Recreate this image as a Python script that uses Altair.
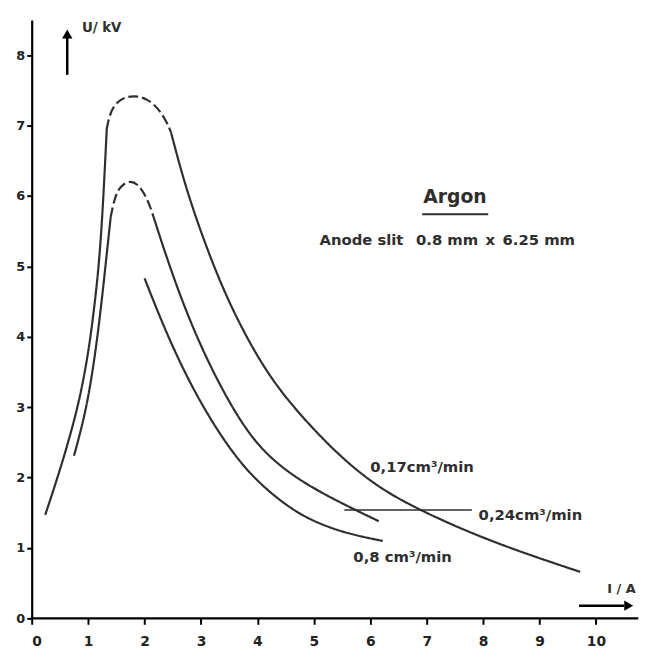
import altair as alt
import pandas as pd

# ---- curve data (I / A , U / kV) ----
# 0,17 cm3/min : rising (solid), peak (dashed), falling (solid)
a_rise_x = [0.24, 0.5, 0.7, 0.86, 1.0, 1.1, 1.19, 1.26, 1.33]
a_rise_y = [1.47, 2.1, 2.65, 3.15, 3.75, 4.35, 5.0, 5.8, 6.95]
a_peak_x = [1.33, 1.37, 1.45, 1.6, 1.82, 2.05, 2.25, 2.4, 2.47]
a_peak_y = [6.95, 7.12, 7.28, 7.39, 7.43, 7.38, 7.24, 7.04, 6.9]
a_fall_x = [2.47, 2.6, 2.78, 3.08, 3.48, 4.0, 4.5, 5.23, 5.8, 6.33, 6.98, 7.73, 8.6, 9.72]
a_fall_y = [6.9, 6.5, 6.0, 5.3, 4.5, 3.7, 3.12, 2.48, 2.07, 1.77, 1.5, 1.23, 0.96, 0.66]

# 0,24 cm3/min
b_rise_x = [0.75, 0.95, 1.1, 1.22, 1.32, 1.4]
b_rise_y = [2.31, 2.9, 3.6, 4.35, 5.1, 5.7]
b_peak_x = [1.4, 1.47, 1.57, 1.73, 1.88, 2.0, 2.1, 2.16]
b_peak_y = [5.7, 5.98, 6.14, 6.22, 6.17, 6.03, 5.85, 5.7]
b_fall_x = [2.16, 2.38, 2.73, 3.2, 3.83, 4.4, 5.0, 5.58, 6.15]
b_fall_y = [5.7, 5.15, 4.36, 3.5, 2.6, 2.15, 1.84, 1.6, 1.38]

# 0,8 cm3/min
c_fall_x = [2.0, 2.3, 2.6, 2.9, 3.3, 3.83, 4.5, 5.0, 5.6, 6.22]
c_fall_y = [4.83, 4.22, 3.68, 3.2, 2.65, 2.06, 1.6, 1.37, 1.2, 1.1]

x_ticks = list(range(0, 11))
y_ticks = list(range(0, 9))

segments = [
    ("A", "A1", "solid", a_rise_x, a_rise_y),
    ("A", "A2", "dashed", a_peak_x, a_peak_y),
    ("A", "A3", "solid", a_fall_x, a_fall_y),
    ("B", "B1", "solid", b_rise_x, b_rise_y),
    ("B", "B2", "dashed", b_peak_x, b_peak_y),
    ("B", "B3", "solid", b_fall_x, b_fall_y),
    ("C", "C1", "solid", c_fall_x, c_fall_y),
]
rows = []
for curve, seg, style, xs, ys in segments:
    for i, (xv, yv) in enumerate(zip(xs, ys)):
        rows.append({"curve": curve, "seg": seg, "style": style, "x": xv, "y": yv, "i": i})
df = pd.DataFrame(rows)

FONT = "DejaVu Sans"
INK = "#2e2e2e"

xscale = alt.Scale(domain=[0, 10.5], nice=False, zero=False)
yscale = alt.Scale(domain=[0, 8.5], nice=False, zero=False)

curves = alt.Chart(df).mark_line(interpolate="basis", strokeWidth=2.2, color=INK).encode(
    x=alt.X("x:Q", scale=xscale,
            axis=alt.Axis(values=x_ticks, format="d", domain=False, tickSize=6, tickWidth=2,
                          tickColor="black", labelFontSize=14, labelFontWeight="bold", labelFont=FONT,
                          labelColor="#222", labelPadding=10, grid=False, title=None)),
    y=alt.Y("y:Q", scale=yscale,
            axis=alt.Axis(values=y_ticks, format="d", domainWidth=2.2, domainColor="black", tickSize=5,
                          tickWidth=2, tickColor="black", labelFontSize=13, labelFontWeight="bold",
                          labelFont=FONT, labelColor="#222", labelPadding=2, grid=False, title=None)),
    detail="seg:N",
    order="i:Q",
    strokeDash=alt.StrokeDash("style:N", scale=alt.Scale(domain=["solid", "dashed"], range=[[1, 0], [10, 4]]),
                              legend=None),
)

# x axis line (extends to the right edge)
xaxis_df = pd.DataFrame({"x": [0], "x2": [10.75], "y": [0]})
xaxis_line = alt.Chart(xaxis_df).mark_rule(color="black", strokeWidth=2.2).encode(
    x="x:Q", x2="x2:Q", y="y:Q")

# leader line for 0,24 label
lead_df = pd.DataFrame({"x": [5.54], "x2": [7.8], "y": [1.54]})
leader = alt.Chart(lead_df).mark_rule(color=INK, strokeWidth=1.6).encode(x="x:Q", x2="x2:Q", y="y:Q")

# underline of "Argon"
ul_df = pd.DataFrame({"x": [6.92], "x2": [8.09], "y": [5.74]})
underline = alt.Chart(ul_df).mark_rule(color=INK, strokeWidth=2).encode(x="x:Q", x2="x2:Q", y="y:Q")

# axis arrows
up_df = pd.DataFrame({"x": [0.63], "y": [7.72], "y2": [8.25]})
up_shaft = alt.Chart(up_df).mark_rule(color="black", strokeWidth=2.5).encode(x="x:Q", y="y:Q", y2="y2:Q")
up_head = alt.Chart(pd.DataFrame({"x": [0.63], "y": [8.3]})).mark_point(
    shape="triangle-up", filled=True, color="black", size=110, opacity=1).encode(x="x:Q", y="y:Q")

right_df = pd.DataFrame({"x": [9.7], "x2": [10.5], "y": [0.18]})
right_shaft = alt.Chart(right_df).mark_rule(color="black", strokeWidth=2.5).encode(x="x:Q", x2="x2:Q", y="y:Q")
right_head = alt.Chart(pd.DataFrame({"x": [10.58], "y": [0.18]})).mark_point(
    shape="triangle-right", filled=True, color="black", size=110, opacity=1).encode(x="x:Q", y="y:Q")

# texts
labels_left = pd.DataFrame({
    "x": [6.0, 7.92, 5.7, 5.1, 0.89, 10.2],
    "y": [2.15, 1.46, 0.87, 5.38, 8.39, 0.42],
    "t": ["0,17cm³/min", "0,24cm³/min", "0,8 cm³/min", "Anode slit\u2002 0.8 mm\u2002x\u20026.25 mm",
          "U/ kV", "I / A"],
    "s": [15, 15, 15, 15, 13.5, 13],
})
texts = alt.Chart(labels_left).mark_text(align="left", baseline="middle", font=FONT, fontWeight="bold",
                                          color=INK).encode(
    x="x:Q", y="y:Q", text="t:N", size=alt.Size("s:Q", scale=None, legend=None))

argon = alt.Chart(pd.DataFrame({"x": [7.5], "y": [5.98], "t": ["Argon"]})).mark_text(
    align="center", baseline="middle", font=FONT, fontWeight="bold", fontSize=19, color=INK).encode(
    x="x:Q", y="y:Q", text="t:N")

chart = alt.layer(
    curves, xaxis_line, leader, underline, up_shaft, up_head, right_shaft, right_head, texts, argon
).properties(
    width=600, height=606,
    autosize=alt.AutoSizeParams(type="none"),
    padding={"left": 24, "top": 8, "right": 16, "bottom": 30},
    background="white",
).configure_view(stroke=None)

chart.save("out.html", embed_options={"renderer": "svg", "actions": False})
